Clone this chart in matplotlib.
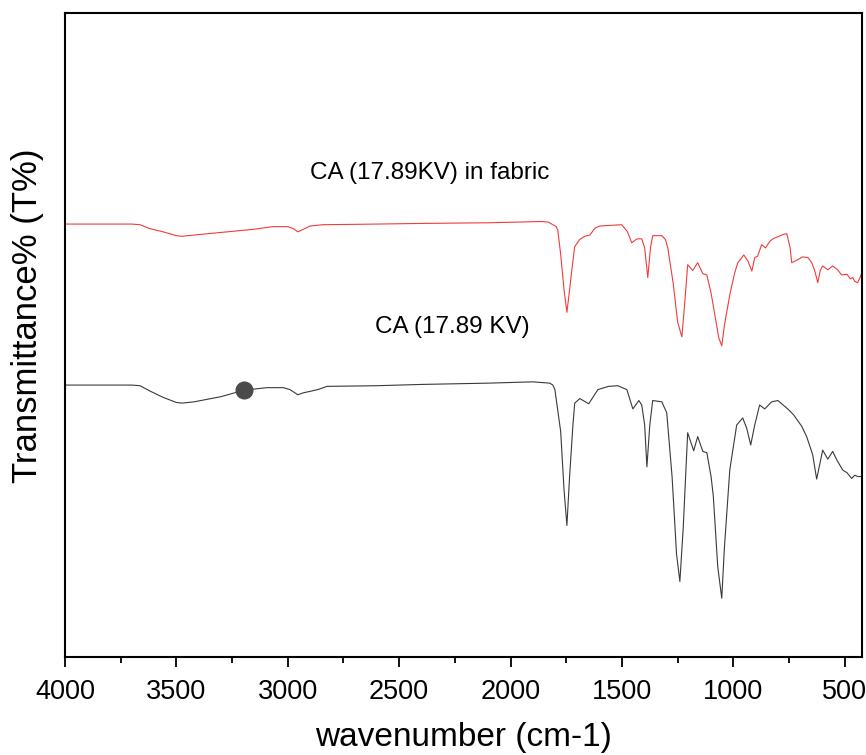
import numpy as np
import matplotlib
matplotlib.use("Agg")
import matplotlib.pyplot as plt
import matplotlib.ticker as ticker

# FTIR spectra (wavenumber in cm-1, transmittance in arbitrary offset units)
wn_fabric = [4000, 3700, 3663, 3620, 3560, 3500, 3475, 3420, 3300, 3150, 3067, 3000,
             2975, 2955, 2935, 2900, 2842, 2600, 2400, 2100, 1860, 1830, 1810, 1795,
             1788, 1775, 1760, 1747, 1735, 1720, 1712, 1690, 1667, 1644, 1620, 1599,
             1501, 1475, 1456, 1433, 1411, 1398, 1384, 1372, 1362, 1321, 1305, 1294,
             1270, 1250, 1231, 1218, 1205, 1182, 1160, 1137, 1119, 1100, 1085, 1065,
             1052, 1040, 1016, 995, 980, 953, 935, 917, 904, 891, 873, 855, 837, 823,
             775, 760, 745, 738, 715, 689, 665, 648, 635, 621, 610, 599, 576, 554,
             532, 514, 490, 475, 464, 455, 442, 430, 424]
t_fabric = [67.2, 67.2, 67.1, 66.5, 66.0, 65.4, 65.3, 65.5, 65.9, 66.4, 66.8, 66.8,
            66.5, 66.0, 66.3, 66.9, 67.1, 67.2, 67.3, 67.4, 67.6, 67.5, 67.1, 66.8,
            66.3, 62.5, 57.0, 53.5, 57.0, 61.5, 63.7, 64.8, 65.3, 65.5, 66.6, 66.9,
            67.1, 66.0, 64.3, 64.9, 64.9, 63.5, 58.9, 63.5, 65.4, 65.4, 64.8, 63.5,
            58.0, 52.0, 49.7, 55.0, 60.9, 60.0, 61.2, 59.5, 59.3, 56.5, 53.5, 49.5,
            48.3, 51.5, 56.2, 59.5, 61.2, 62.4, 61.5, 59.9, 62.0, 62.2, 64.0, 63.5,
            64.5, 64.9, 65.6, 65.7, 63.5, 61.2, 61.6, 62.1, 62.0, 61.2, 60.0, 58.1,
            60.0, 60.7, 60.1, 60.7, 60.1, 59.3, 59.4, 58.7, 58.9, 58.3, 58.1, 59.0, 59.6]

wn_ca = [4000, 3700, 3663, 3620, 3560, 3500, 3475, 3420, 3300, 3197, 3094, 3020,
         2990, 2955, 2930, 2890, 2865, 2824, 2600, 2400, 2100, 1900, 1824, 1810,
         1801, 1775, 1760, 1747, 1735, 1720, 1712, 1689, 1649, 1608, 1560, 1519,
         1478, 1451, 1424, 1411, 1398, 1388, 1375, 1362, 1321, 1299, 1275, 1255,
         1240, 1225, 1205, 1178, 1160, 1137, 1119, 1100, 1090, 1070, 1052, 1040,
         1016, 985, 958, 940, 922, 904, 882, 859, 828, 800, 756, 730, 693, 671,
         644, 626, 599, 576, 554, 536, 509, 490, 469, 455, 442, 428]
t_ca = [42.2, 42.2, 42.1, 41.3, 40.3, 39.5, 39.4, 39.6, 40.4, 41.4, 41.8, 41.8,
        41.5, 40.7, 41.0, 41.3, 41.5, 42.0, 42.1, 42.3, 42.5, 42.7, 42.5, 42.2,
        41.5, 35.0, 26.0, 20.4, 28.0, 36.0, 39.4, 40.1, 39.3, 41.5, 42.0, 42.1,
        41.5, 38.5, 39.8, 39.1, 36.0, 29.5, 36.0, 39.8, 39.6, 37.9, 28.0, 16.0,
        11.7, 20.0, 34.8, 32.0, 34.2, 31.9, 31.7, 28.0, 25.0, 14.0, 9.1, 17.0,
        29.0, 36.0, 37.1, 35.5, 32.9, 36.0, 39.1, 38.5, 39.6, 39.8, 38.5, 37.6,
        35.8, 34.2, 31.4, 27.6, 32.1, 30.7, 31.9, 30.6, 29.0, 28.6, 27.7, 28.2,
        28.0, 28.0]

marker_wn = [3197]
marker_t = [41.4]

label_fabric = "CA (17.89KV) in fabric"
label_ca = "CA (17.89 KV)"

plt.rcParams['font.family'] = ['Liberation Sans', 'DejaVu Sans']

fig = plt.figure(figsize=(8.66, 7.55), dpi=100)
ax = fig.add_axes([0.075, 0.130, 0.920, 0.853])

ax.plot(wn_fabric, t_fabric, color="#f03c3c", lw=0.8)
ax.plot(wn_ca, t_ca, color="#3a3a3a", lw=0.8)
ax.plot(marker_wn, marker_t, "o", color="#4a4a4a", markersize=12)

ax.text(2362, 75.2, label_fabric, ha="center", va="center", fontsize=17.5)
ax.text(2263, 51.2, label_ca, ha="center", va="center", fontsize=17.5)

ax.set_xlim(4000, 424)
ax.set_ylim(0, 100)
ax.xaxis.set_major_locator(ticker.MultipleLocator(500))
ax.xaxis.set_minor_locator(ticker.MultipleLocator(250))
ax.set_yticks([])
ax.tick_params(axis="x", which="major", direction="out", length=7, width=1.3,
               pad=9, labelsize=19.5)
ax.tick_params(axis="x", which="minor", direction="out", length=4, width=1.3)
for sp in ax.spines.values():
    sp.set_linewidth(1.5)

ax.set_xlabel("wavenumber (cm-1)", fontsize=24, labelpad=12)
ax.set_ylabel("Transmittance% (T%)", fontsize=25, va="center")
ax.yaxis.set_label_coords(-0.047, 0.53)

fig.savefig("out.png", dpi=100)
